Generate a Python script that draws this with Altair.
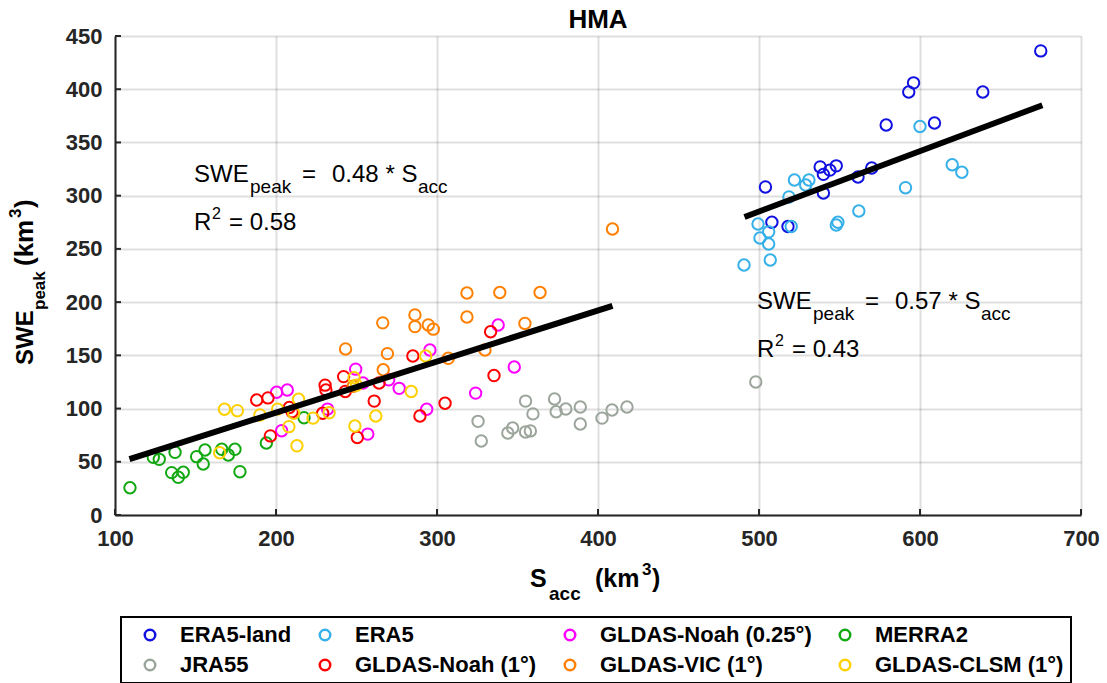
import altair as alt
import pandas as pd

FONT = "Liberation Sans"

# legend is filled column by column, so this order gives the reference's rows
series_names = ["ERA5-land", "JRA55", "ERA5", "GLDAS-Noah (1°)",
                "GLDAS-Noah (0.25°)", "GLDAS-VIC (1°)", "MERRA2", "GLDAS-CLSM (1°)"]
series_colors = ["#1010e0", "#9ba59b", "#35b0e8", "#ff0000",
                 "#ff00ff", "#ff8000", "#12a812", "#ffd000"]

era5land_x = [675, 596, 593, 639, 579, 609, 504, 538, 548, 544, 540, 540, 561.5, 570, 508, 518]
era5land_y = [436, 406, 397.4, 397.4, 366.4, 368.3, 308.2, 327, 328, 324, 320, 302.5, 317.6, 326, 275, 271]

era5_x = [600, 620, 626, 591, 562, 522, 531, 529, 518.6, 548, 549, 520, 499.4, 500.6, 506, 507, 490.7, 506]
era5_y = [365, 329, 322, 307.5, 285.6, 314.7, 314.7, 310, 298.8, 272.4, 275, 271, 273.4, 260.2, 254.6, 239.6, 234.9, 266]

noah025_x = [200.4, 207, 203.5, 257, 249.5, 232, 254, 270, 276.5, 295.6, 293.6, 338, 348, 324]
noah025_y = [115.3, 117.4, 79.2, 76, 137, 99.5, 124, 127, 119, 155, 99.3, 178.5, 139, 114.5]

merra2_x = [109.3, 123.8, 127.5, 137.3, 135.2, 139.3, 142.4, 150.7, 155.9, 154.8, 166.3, 170.4, 174.5, 177.6, 194, 217.4]
merra2_y = [25.6, 54.2, 52.3, 58.9, 39.8, 35.4, 40.1, 54.8, 61.1, 47.9, 61.7, 56.4, 61.7, 40.7, 67.6, 91.4]

jra55_x = [498, 355, 373, 325.5, 327.5, 344, 347, 355, 358, 359.6, 374, 380, 389, 389, 402.5, 408.7, 418]
jra55_y = [125, 107, 109, 88, 69.5, 77, 81.7, 78, 79, 95, 97, 99.6, 101.5, 85.5, 91, 98.6, 101.5]

noah1_x = [188, 195, 210, 196.5, 208.3, 229, 242, 243, 264, 230.5, 231, 261, 250.5, 285, 289.4, 305, 333.3, 335.4]
noah1_y = [108, 110, 97, 74.3, 101, 95.6, 130, 116, 124, 122, 117.4, 107, 72.8, 149.4, 93, 105, 172.2, 131]

vic_x = [409, 339, 364, 318.6, 318.6, 286.3, 286.3, 294.6, 297.7, 354.6, 266.3, 243.2, 269.2, 266.6, 307, 329.8, 248]
vic_y = [268.7, 209, 209, 208.6, 186, 188, 177, 178.6, 174.6, 180, 180.5, 156, 151.6, 136.5, 147.2, 155, 121]

clsm_x = [165, 168, 176, 190, 201, 208, 213, 214, 211, 223, 233, 248.5, 250, 262, 249, 293, 284]
clsm_y = [58.5, 99.3, 98, 94, 99.5, 83, 65, 108.7, 95.6, 91, 96, 129, 122, 93, 83.6, 149.4, 116]

fit_left_x = [109, 409]
fit_left_y = [52.5, 196.5]
fit_right_x = [491, 676]
fit_right_y = [280, 385]

x_ticks = [100, 200, 300, 400, 500, 600, 700]
y_ticks = [0, 50, 100, 150, 200, 250, 300, 350, 400, 450]

series_data = {
    "ERA5-land": (era5land_x, era5land_y),
    "ERA5": (era5_x, era5_y),
    "GLDAS-Noah (0.25°)": (noah025_x, noah025_y),
    "MERRA2": (merra2_x, merra2_y),
    "JRA55": (jra55_x, jra55_y),
    "GLDAS-Noah (1°)": (noah1_x, noah1_y),
    "GLDAS-VIC (1°)": (vic_x, vic_y),
    "GLDAS-CLSM (1°)": (clsm_x, clsm_y),
}
rows = []
for name, (sx, sy) in series_data.items():
    for a, b in zip(sx, sy):
        rows.append({"Sacc": a, "SWE": b, "Dataset": name})
pts = pd.DataFrame(rows)

fit = pd.DataFrame({
    "Sacc": fit_left_x + fit_right_x,
    "SWE": fit_left_y + fit_right_y,
    "grp": ["left", "left", "right", "right"],
})

W, H = 966, 479
xscale = alt.Scale(domain=[100, 700], nice=False, zero=False)
yscale = alt.Scale(domain=[0, 450], nice=False, zero=False)

xaxis = alt.Axis(values=x_ticks, title=None, ticks=False, labelPadding=13,
                 labelFontSize=22, labelFontWeight="bold", labelFont=FONT,
                 labelColor="#262626", domainColor="#262626", domainWidth=2,
                 gridColor="#262626", gridOpacity=0.15, gridWidth=2, labelFlush=False)
yaxis = alt.Axis(values=y_ticks, title=None, ticks=False, labelPadding=13,
                 labelFontSize=22, labelFontWeight="bold", labelFont=FONT,
                 labelColor="#262626", domainColor="#262626", domainWidth=2,
                 gridColor="#262626", gridOpacity=0.15, gridWidth=2, labelFlush=False)

legend = alt.Legend(title=None, orient="none", legendX=6, legendY=581, columns=4,
                    columnPadding=11, rowPadding=8, padding=7, symbolOffset=11,
                    labelOffset=19, strokeColor="#000000", labelFontSize=22,
                    labelFontWeight="bold", labelFont=FONT, labelColor="#000000",
                    labelLimit=400, symbolType="circle", symbolSize=110,
                    symbolStrokeWidth=2.5)

points = alt.Chart(pts).mark_point(shape="circle", filled=False, size=130,
                                   strokeWidth=2, opacity=1).encode(
    x=alt.X("Sacc:Q", scale=xscale, axis=xaxis),
    y=alt.Y("SWE:Q", scale=yscale, axis=yaxis),
    color=alt.Color("Dataset:N", scale=alt.Scale(domain=series_names, range=series_colors),
                    legend=legend, sort=series_names),
)

lines = alt.Chart(fit).mark_line(color="#000000", strokeWidth=6, strokeCap="butt").encode(
    x=alt.X("Sacc:Q", scale=xscale),
    y=alt.Y("SWE:Q", scale=yscale),
    detail="grp:N",
)

xt = pd.DataFrame({"v": x_ticks})
yt = pd.DataFrame({"v": y_ticks})
xtick_marks = alt.Chart(xt).mark_rule(color="#262626", strokeWidth=2).encode(
    x=alt.X("v:Q", scale=xscale), y=alt.value(H), y2=alt.value(H - 6))
ytick_marks = alt.Chart(yt).mark_rule(color="#262626", strokeWidth=2).encode(
    y=alt.Y("v:Q", scale=yscale), x=alt.value(0), x2=alt.value(6))

one = pd.DataFrame({"a": [0]})


def txt(s, px, py, size, bold=False, angle=0, align="left"):
    kw = dict(text=s, fontSize=size, fontWeight="bold" if bold else "normal",
              font=FONT, align=align, baseline="alphabetic", color="#000000")
    if angle:
        kw["angle"] = angle
    return alt.Chart(one).mark_text(**kw).encode(
        x=alt.value(px - 115), y=alt.value(py - 36))


texts = [
    # title
    txt("HMA", 598, 28, 26, bold=True, align="center"),
    # left annotation
    txt("SWE", 194, 182, 24),
    txt("peak", 250, 193, 19),
    txt("=", 302, 182, 24),
    txt("0.48 * S", 332, 182, 24),
    txt("acc", 418, 193, 19),
    txt("R", 194, 230, 24),
    txt("2", 212, 219, 16),
    txt("= 0.58", 229, 230, 24),
    # right annotation
    txt("SWE", 757, 309, 24),
    txt("peak", 813, 320, 19),
    txt("=", 865, 309, 24),
    txt("0.57 * S", 895, 309, 24),
    txt("acc", 981, 320, 19),
    txt("R", 757, 357, 24),
    txt("2", 775, 346, 16),
    txt("= 0.43", 792, 357, 24),
    # x title
    txt("S", 530, 587, 25, bold=True),
    txt("acc", 549, 600, 19, bold=True),
    txt("(km", 595, 587, 25, bold=True),
    txt("3", 642, 575, 17, bold=True),
    txt(")", 652, 587, 25, bold=True),
    # y title
    txt("SWE", 33, 365, 24, bold=True, angle=270),
    txt("peak", 45, 310, 17, bold=True, angle=270),
    txt("(km", 33, 266, 26, bold=True, angle=270),
    txt("3", 21, 218, 17, bold=True, angle=270),
    txt(")", 33, 208, 26, bold=True, angle=270),
]

chart = alt.layer(points, lines, xtick_marks, ytick_marks, *texts).properties(
    width=W, height=H,
    autosize=alt.AutoSizeParams(type="none"),
    padding={"left": 115, "top": 36, "right": 26, "bottom": 168},
).configure_view(strokeWidth=0).configure_legend(strokeWidth=2)

chart.save("out.html", embed_options={"renderer": "svg", "actions": False})
